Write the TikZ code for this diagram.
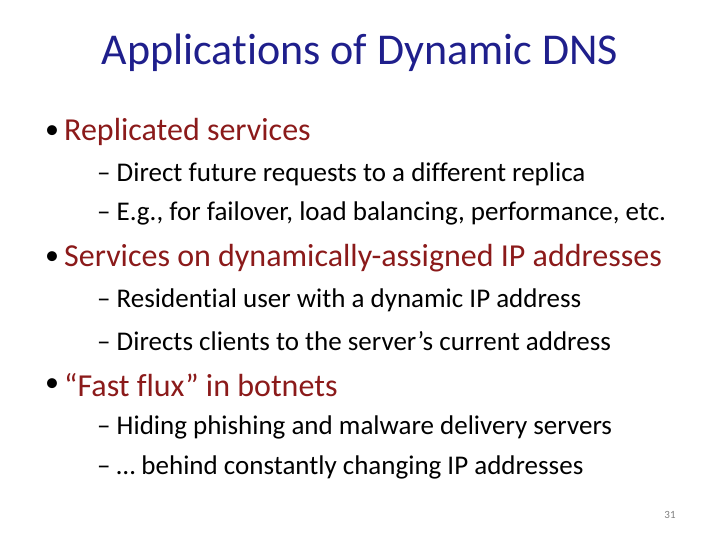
\documentclass[tikz,border=0pt]{standalone}
\usepackage{fontspec}
\setmainfont[RawFeature=-liga]{Carlito}
\definecolor{tblue}{HTML}{1F1F8C}
\definecolor{bred}{HTML}{8B1A1A}
\begin{document}
\begin{tikzpicture}[x=1pt,y=-1pt,
  ttl/.style={font=\fontsize{44}{50}\selectfont,text=tblue},
  lvlone/.style={anchor=west,inner sep=0pt,font=\fontsize{32}{36}\selectfont,text=bred},
  lvltwo/.style={anchor=west,inner sep=0pt,font=\fontsize{27}{30}\selectfont},
  dot/.style={anchor=west,inner sep=0pt,font=\fontsize{28}{32}\selectfont}]
\useasboundingbox (0,0) rectangle (720,540);
\node[ttl] (title) at (360,53) {Applications of Dynamic DNS};
\node[dot] (d1) at (45,132) {•};
\node[lvlone] (b1) at (64,132) {Replicated services};
\node[lvltwo] (s11) at (97,174) {– Direct future requests to a different replica};
\node[lvltwo] (s12) at (97,213) {– E.g., for failover, load balancing, performance, etc.};
\node[dot] (d2) at (45,258) {•};
\node[lvlone] (b2) at (64,258) {Services on dynamically-assigned IP addresses};
\node[lvltwo] (s21) at (97,300) {– Residential user with a dynamic IP address};
\node[lvltwo] (s22) at (97,341) {– Directs clients to the server’s current address};
\node[dot] (d3) at (45,385) {•};
\node[lvlone] (b3) at (64,385) {“Fast flux” in botnets};
\node[lvltwo] (s31) at (97,427) {– Hiding phishing and malware delivery servers};
\node[lvltwo] (s32) at (97,467) {– … behind constantly changing IP addresses};
\node[font=\fontsize{11}{13}\selectfont,text=gray] (pn) at (670,515) {31};
\end{tikzpicture}
\end{document}
